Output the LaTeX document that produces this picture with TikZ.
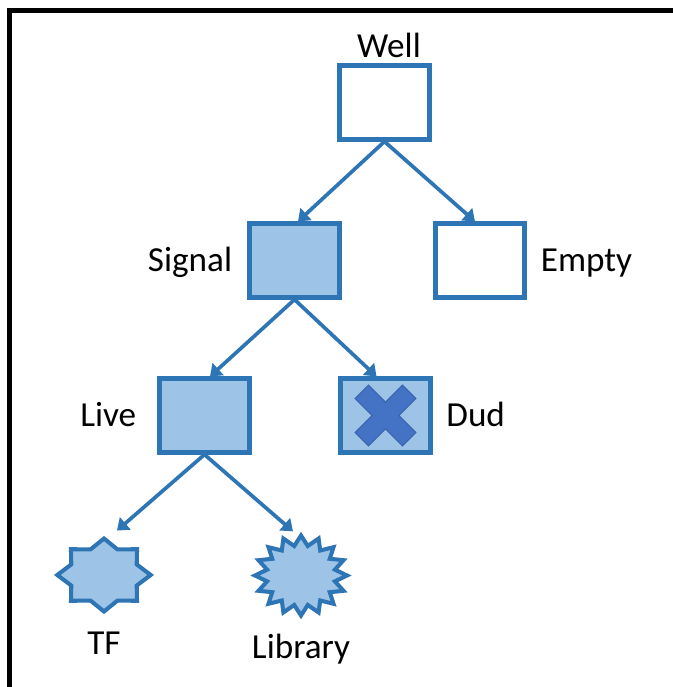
\documentclass[tikz,border=0pt]{standalone}
\usepackage{fontspec}
\setmainfont{Carlito}
\usetikzlibrary{shapes.geometric,arrows.meta,positioning}
\definecolor{edge}{HTML}{2E75B6}
\definecolor{shade}{HTML}{9DC3E6}
\definecolor{crossfill}{HTML}{4472C4}
\definecolor{crossline}{HTML}{3A64AE}
\begin{document}
\begin{tikzpicture}[
  font=\fontsize{20}{24}\selectfont,
  box/.style={draw=edge,line width=2.6pt,minimum width=1.79cm,minimum height=1.47cm,inner sep=0pt},
  full/.style={box,fill=shade},
  burst/.style={star,draw=edge,fill=shade,line width=2.3pt,inner sep=0pt},
  link/.style={draw=edge,line width=2.1pt,-{Triangle[length=0.22cm,width=0.32cm]}},
  tag/.style={inner sep=0pt,text height=0.45cm,text depth=0pt}
]
\useasboundingbox (0,0) rectangle (13.46,13.74);
\draw[line width=2.5pt] (0.19,0) -- (0.19,13.53) -- (13.46,13.53);

\node[box] (well) at (7.69,11.69) {};
\node[full] (signal) at (5.89,8.53) {};
\node[box] (empty) at (9.60,8.53) {};
\node[full] (live) at (4.09,5.43) {};
\node[full] (dud) at (7.71,5.43) {};
\node[burst,star points=8,star point ratio=1.32,minimum size=1.46cm,xscale=1.28] (tf) at (2.08,2.24) {};
\node[burst,star points=16,star point ratio=1.33,minimum size=1.6cm,xscale=1.15] (library) at (6.02,2.23) {};

\node[tag,above=0.11cm of well,xshift=0.09cm] (welltext) {Well};
\node[tag,left=0.3cm of signal] (signaltext) {Signal};
\node[tag,right=0.27cm of empty] (emptytext) {Empty};
\node[tag,left=0.42cm of live] (livetext) {Live};
\node[tag,right=0.27cm of dud] (dudtext) {Dud};
\node[tag,below=0.35cm of tf] (tftext) {TF};
\node[tag,below=0.33cm of library] (librarytext) {Library};

\filldraw[fill=crossfill,draw=crossline,line width=0.6pt,shift={(dud.center)},rotate=45]
  (0.19,0.19) -- (0.67,0.19) -- (0.67,-0.19) -- (0.19,-0.19) -- (0.19,-0.67) -- (-0.19,-0.67)
  -- (-0.19,-0.19) -- (-0.67,-0.19) -- (-0.67,0.19) -- (-0.19,0.19) -- (-0.19,0.67) -- (0.19,0.67) -- cycle;

\draw[link] (well.south) -- ([xshift=0.07cm]signal.north);
\draw[link] (well.south) -- ([xshift=-0.1cm]empty.north);
\draw[link] (signal.south) -- ([xshift=0.11cm]live.north);
\draw[link] (signal.south) -- ([xshift=-0.18cm]dud.north);
\draw[link] (live.south) -- ([xshift=0.26cm,yshift=0.1cm]tf.north);
\draw[link] (live.south) -- ([xshift=-0.16cm]library.north);
\end{tikzpicture}
\end{document}
